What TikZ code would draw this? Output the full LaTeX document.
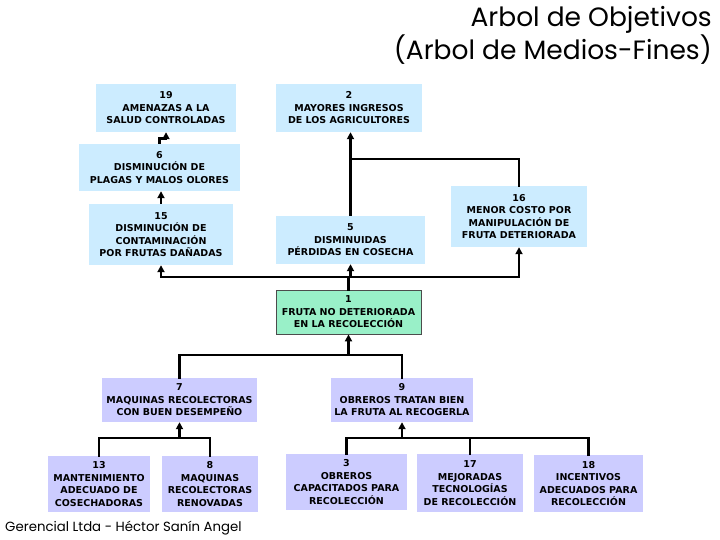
\documentclass[tikz,border=0pt]{standalone}
\usepackage{fontspec}
\usetikzlibrary{arrows.meta}
\newfontfamily\boxfont{DejaVu Sans}
\newfontfamily\titlefont{Poppins}
\definecolor{lblue}{RGB}{204,236,255}
\definecolor{lilac}{RGB}{204,204,255}
\definecolor{mint}{RGB}{153,240,200}
\tikzset{
  bx/.style={inner sep=0pt, align=center, font=\boxfont\bfseries\fontsize{9.5}{12.5}\selectfont},
  bluebox/.style={bx, fill=lblue},
  lilbox/.style={bx, fill=lilac},
  greenbox/.style={bx, fill=mint, draw=black!70, line width=0.8pt},
  ln/.style={line width=2.7pt, line cap=rect},
  arr/.style={line width=2.7pt, -{Triangle[length=7pt,width=7pt]}},
}
\newcommand{\bxat}[7]{% name, style, x1, x2, y1, y2, text
  \node[#2, minimum width={#4-#3}, minimum height={#6-#5}] (#1) at ({(#3+#4)/2},{(#5+#6)/2}) {#7};}
\begin{document}
\begin{tikzpicture}[x=1pt,y=-1pt]
\useasboundingbox (0,0) rectangle (720,540);
% title
\node[anchor=north east, align=right, inner sep=0pt, font=\titlefont\fontsize{26.5}{31}\selectfont] (title) at (712,6) {Arbol de Objetivos\\(Arbol de Medios-Fines)};
\node[anchor=south west, inner sep=0pt, font=\titlefont\fontsize{13.3}{15}\selectfont] (foot) at (5,535) {Gerencial Ltda - Héctor Sanín Angel};
% boxes
\bxat{n19}{bluebox}{96}{236}{84}{132}{19\\AMENAZAS A LA\\SALUD CONTROLADAS}
\bxat{n2}{bluebox}{276}{422}{84}{132}{2\\MAYORES INGRESOS\\DE LOS AGRICULTORES}
\bxat{n6}{bluebox}{79}{240}{144}{191}{6\\DISMINUCIÓN DE\\PLAGAS Y MALOS OLORES}
\bxat{n15}{bluebox}{89}{233}{204}{265}{15\\DISMINUCIÓN DE\\CONTAMINACIÓN\\POR FRUTAS DAÑADAS}
\bxat{n5}{bluebox}{276}{425}{216}{264}{5\\DISMINUIDAS\\PÉRDIDAS EN COSECHA}
\bxat{n16}{bluebox}{451}{587}{186}{247}{16\\MENOR COSTO POR\\MANIPULACIÓN DE\\FRUTA DETERIORADA}
\bxat{n1}{greenbox}{276}{421}{290}{334}{1\\FRUTA NO DETERIORADA\\EN LA RECOLECCIÓN}
\bxat{n7}{lilbox}{102}{257}{378}{422}{7\\MAQUINAS RECOLECTORAS\\CON BUEN DESEMPEÑO}
\bxat{n9}{lilbox}{331}{473}{378}{422}{9\\OBREROS TRATAN BIEN\\LA FRUTA AL RECOGERLA}
\bxat{n13}{lilbox}{48}{150}{456}{512}{13\\MANTENIMIENTO\\ADECUADO DE\\COSECHADORAS}
\bxat{n8}{lilbox}{162}{258}{456}{512}{8\\MAQUINAS\\RECOLECTORAS\\RENOVADAS}
\bxat{n3}{lilbox}{286}{407}{454}{510}{3\\OBREROS\\CAPACITADOS PARA\\RECOLECCIÓN}
\bxat{n17}{lilbox}{417}{523}{454}{512}{17\\MEJORADAS\\TECNOLOGÍAS\\DE RECOLECCIÓN}
\bxat{n18}{lilbox}{534}{643}{455}{512}{18\\INCENTIVOS\\ADECUADOS PARA\\RECOLECCIÓN}
% junction coordinates
\coordinate (jtop) at (349,159);
\coordinate (jmid) at (348,277);
\coordinate (j1) at (348,355);
\coordinate (j7) at (179,438);
\coordinate (j9) at (402,438);
% upper connectors
\draw[arr] (n6.north) -- ++(0,-5) -| (n19.south);
\draw[arr] (n15.north) -- (n15.north |- n6.south);
\draw[arr] (n5.north) -- (n5.north |- n2.south);
\draw[ln] (n16.north) |- (n5.north |- jtop);
% from 1 to 15, 5, 16
\draw[ln] (n1.north) -- (n1.north |- jmid);
\draw[ln] (n15.south |- jmid) -- (n16.south |- jmid);
\draw[arr] (n15.south |- jmid) -- (n15.south);
\draw[arr] (n5.south |- jmid) -- (n5.south);
\draw[arr] (n16.south |- jmid) -- (n16.south);
% 7, 9 to 1
\draw[ln] (n7.north) |- (n9.north |- j1) -- (n9.north);
\draw[arr] (n1.south |- j1) -- (n1.south);
% 13, 8 to 7
\draw[ln] (n13.north) |- (n8.north |- j7) -- (n8.north);
\draw[arr] (n7.south |- j7) -- (n7.south);
% 3, 17, 18 to 9
\draw[ln] (n3.north) |- (n18.north |- j9) -- (n18.north);
\draw[ln] (n17.north) -- (n17.north |- j9);
\draw[arr] (n9.south |- j9) -- (n9.south);
\end{tikzpicture}
\end{document}
